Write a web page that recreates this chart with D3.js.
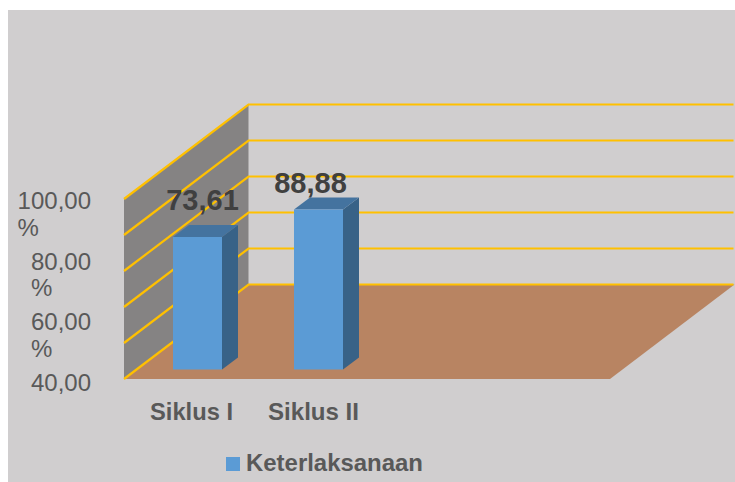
<!DOCTYPE html>
<html><head><meta charset="utf-8">
<script src="https://cdn.jsdelivr.net/npm/d3@7/dist/d3.min.js"></script>
<style>html,body{margin:0;padding:0;background:#fff}svg{display:block}text{font-family:"Liberation Sans",Arial,sans-serif}</style>
</head><body><svg id="c" width="735" height="482"></svg>
<script>
const categories = ["Siklus I", "Siklus II"];
const seriesName = "Keterlaksanaan";
const values = [73.61, 88.88];
const valueLabels = ["73,61", "88,88"];
const gridTicks = [0, 20, 40, 60, 80, 100];
const tickLabels = [[100, "100,00", "%"], [80, "80,00", "%"], [60, "60,00", "%"], [40, "40,00", ""]];

const svg = d3.select("#c");
const colors = {panel:"#d0cecf", wall:"#858383", floor:"#b88462", grid:"#ffc000", front:"#5b9bd5", top:"#44739f", side:"#386287", tick:"#595959", label:"#404040"};

const y = d3.scaleLinear().domain([0, 100]).range([379, 199]);
const depth = {dx: 124.5, dy: -94.5};
const floorW = 486;
const x0 = 124;
const x = d3.scaleBand().domain(categories).range([173, 343]).paddingInner(0.595).paddingOuter(0);
const barDepth = {dx: 16, dy: -12};
const barFrontY = -9.5;
const labelNudge = {"Siklus I": [5, -27], "Siklus II": [-8, -17]};
const catNudge = {"Siklus I": -6, "Siklus II": -5};
const tickY = d3.scaleLinear().domain([100, 40]).range([209, 391]);

const poly = pts => pts.map(p => p.join(",")).join(" ");

svg.append("rect").attr("x", 8).attr("y", 10).attr("width", 727).attr("height", 472).attr("fill", colors.panel);

svg.append("polygon").attr("fill", colors.wall).attr("points", poly([
  [x0, y(0)], [x0, y(100)], [x0 + depth.dx, y(100) + depth.dy], [x0 + depth.dx, y(0) + depth.dy]]));
svg.append("polygon").attr("fill", colors.floor).attr("points", poly([
  [x0, y(0)], [x0 + depth.dx, y(0) + depth.dy], [x0 + depth.dx + floorW, y(0) + depth.dy], [x0 + floorW, y(0)]]));
const g = svg.append("g").attr("fill", "none").attr("stroke", colors.grid).attr("stroke-width", 2.2);
g.selectAll("polyline").data(gridTicks).join("polyline").attr("points", d => poly([
  [x0, y(d)], [x0 + depth.dx, y(d) + depth.dy], [x0 + depth.dx + floorW - 1, y(d) + depth.dy]]));

const bars = svg.selectAll("g.bar").data(categories.map((c, i) => ({c, v: values[i], l: valueLabels[i]}))).join("g").attr("class", "bar");
bars.each(function(d) {
  const s = d3.select(this), l = x(d.c), w = x.bandwidth(), t = y(d.v) + barFrontY, b = y(0) + barFrontY;
  s.append("polygon").attr("fill", colors.side).attr("points", poly([[l+w,t],[l+w+barDepth.dx,t+barDepth.dy],[l+w+barDepth.dx,b+barDepth.dy],[l+w,b]]));
  s.append("polygon").attr("fill", colors.top).attr("points", poly([[l,t],[l+barDepth.dx,t+barDepth.dy],[l+w+barDepth.dx,t+barDepth.dy],[l+w,t]]));
  s.append("rect").attr("x", l).attr("y", t).attr("width", w).attr("height", b - t).attr("fill", colors.front);
});
bars.append("text")
  .attr("x", d => x(d.c) + x.bandwidth()/2 + labelNudge[d.c][0])
  .attr("y", d => y(d.v) + barFrontY + labelNudge[d.c][1])
  .attr("text-anchor", "middle").attr("font-size", 29).attr("font-weight", "bold").attr("fill", colors.label).text(d => d.l);

const ax = svg.append("g").attr("fill", colors.tick).attr("font-size", 24);
tickLabels.forEach(([v, a, b]) => {
  const t = ax.append("text").attr("x", 91).attr("y", tickY(v)).attr("text-anchor", "end").text(a);
  const w = t.node().getComputedTextLength();
  if (b) ax.append("text").attr("x", 91 - w).attr("y", tickY(v) + 26.5).text(b);
});

svg.append("g").selectAll("text").data(categories).join("text")
  .attr("x", d => x(d) + x.bandwidth()/2 + catNudge[d]).attr("y", 420).attr("text-anchor", "middle")
  .attr("font-size", 24).attr("font-weight", "bold").attr("fill", colors.tick)
  .attr("textLength", (d, i) => [83, 91][i]).attr("lengthAdjust", "spacingAndGlyphs").text(d => d);

svg.append("rect").attr("x", 226).attr("y", 457).attr("width", 14).attr("height", 14).attr("fill", colors.front);
svg.append("text").attr("x", 246).attr("y", 471).attr("font-size", 24).attr("font-weight", "bold").attr("fill", colors.tick)
  .attr("textLength", 177).attr("lengthAdjust", "spacingAndGlyphs").text(seriesName);
</script></body></html>
